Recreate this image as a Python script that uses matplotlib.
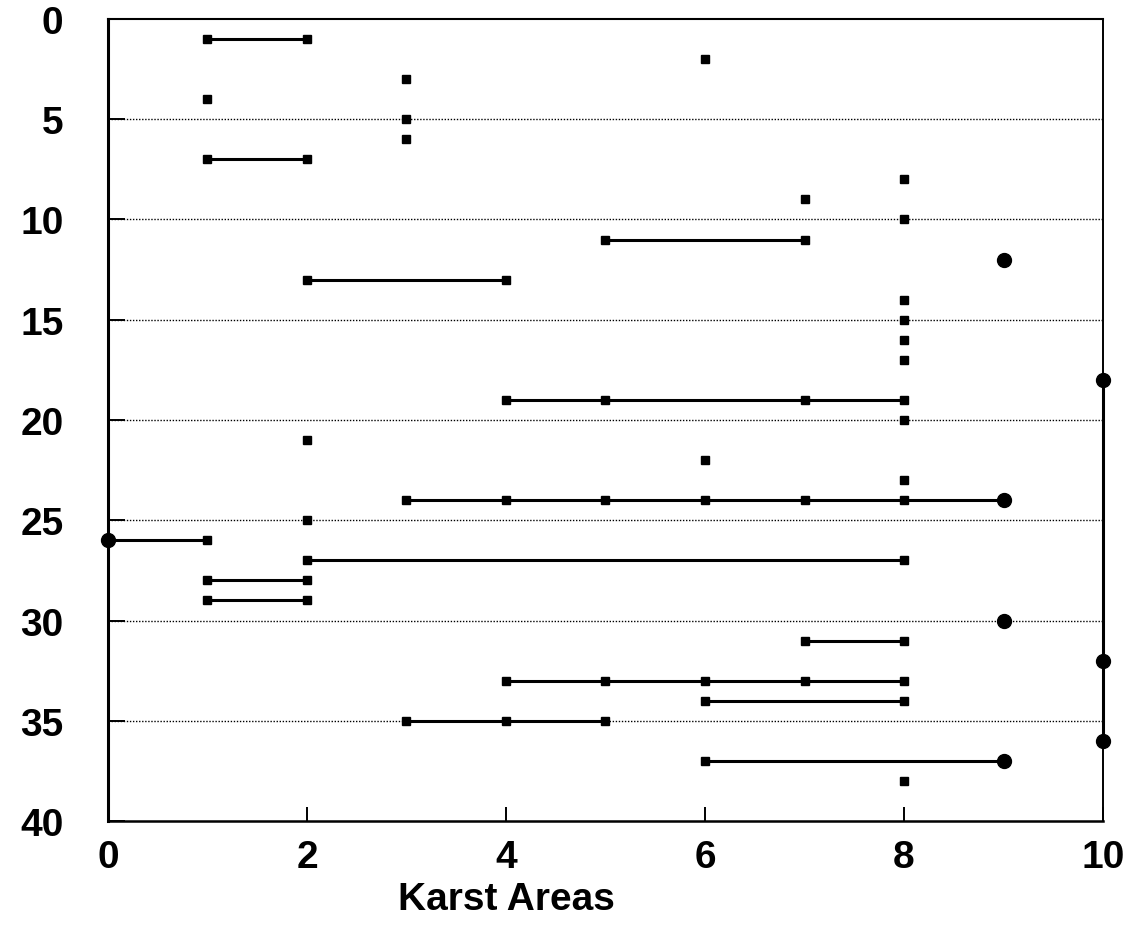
import matplotlib
matplotlib.use('Agg')
import matplotlib.pyplot as plt

# depth rank (y) and the karst areas (x) found at it; points on one row are joined
rows_y = [1, 2, 3, 4, 5, 6, 7, 8, 9, 10, 11, 12, 13, 14, 15, 16, 17, 18, 19,
          20, 21, 22, 23, 24, 25, 26, 27, 28, 29, 30, 31, 32, 33, 34, 35, 36, 37, 38]
rows_x = [[1, 2], [6], [3], [1], [3], [3], [1, 2], [8], [7], [8], [5, 7], [9],
          [2, 4], [8], [8], [8], [8], [10], [4, 5, 7, 8], [8], [2], [6], [8],
          [3, 4, 5, 6, 7, 8, 9], [2], [0, 1], [2, 8], [1, 2], [1, 2], [9], [7, 8],
          [10], [4, 5, 6, 7, 8], [6, 8], [3, 4, 5], [10], [6, 9], [8]]

# the heavier dots
big_x = [9, 10, 9, 0, 9, 10, 10, 9]
big_y = [12, 18, 24, 26, 30, 32, 36, 37]

# the joined points on the right edge
edge_x = [10, 10, 10]
edge_y = [18, 32, 36]

xticks = [0, 2, 4, 6, 8, 10]
yticks = [0, 5, 10, 15, 20, 25, 30, 35, 40]

plt.rcParams['font.family'] = ['Liberation Sans', 'DejaVu Sans']
plt.rcParams['font.weight'] = 'bold'

fig = plt.figure(figsize=(11.34, 9.37), dpi=100)
ax = fig.add_axes([0.0952, 0.1227, 0.8775, 0.856])

for y, xs in zip(rows_y, rows_x):
    ax.plot(xs, [y] * len(xs), color='black', lw=2.2, marker='s', ms=6,
            clip_on=False, zorder=3)

ax.plot(edge_x, edge_y, color='black', lw=2.2, clip_on=False, zorder=3)
ax.plot(big_x, big_y, ls='none', marker='o', ms=10, color='black',
        clip_on=False, zorder=4)

ax.set_xlim(0, 10)
ax.set_ylim(40, 0)
ax.set_xticks(xticks)
ax.set_yticks(yticks)

for y in yticks[1:-1]:
    ax.axhline(y, color='black', lw=1.0, ls=(0, (1, 1.2)), zorder=1)

for s in ax.spines.values():
    s.set_color('black')
ax.spines['left'].set_linewidth(2.2)
ax.spines['bottom'].set_linewidth(1.8)
ax.spines['top'].set_linewidth(1.5)
ax.spines['right'].set_linewidth(1.4)

ax.tick_params(axis='both', direction='in', labelsize=28, color='black')
ax.tick_params(axis='x', length=10, width=1.4, pad=13)
ax.tick_params(axis='y', length=12, width=1.4, pad=32)

ax.set_xlabel('Karst Areas', fontsize=28, fontweight='bold')
ax.xaxis.set_label_coords(0.40, -0.075)

fig.savefig('out.png', dpi=100)
